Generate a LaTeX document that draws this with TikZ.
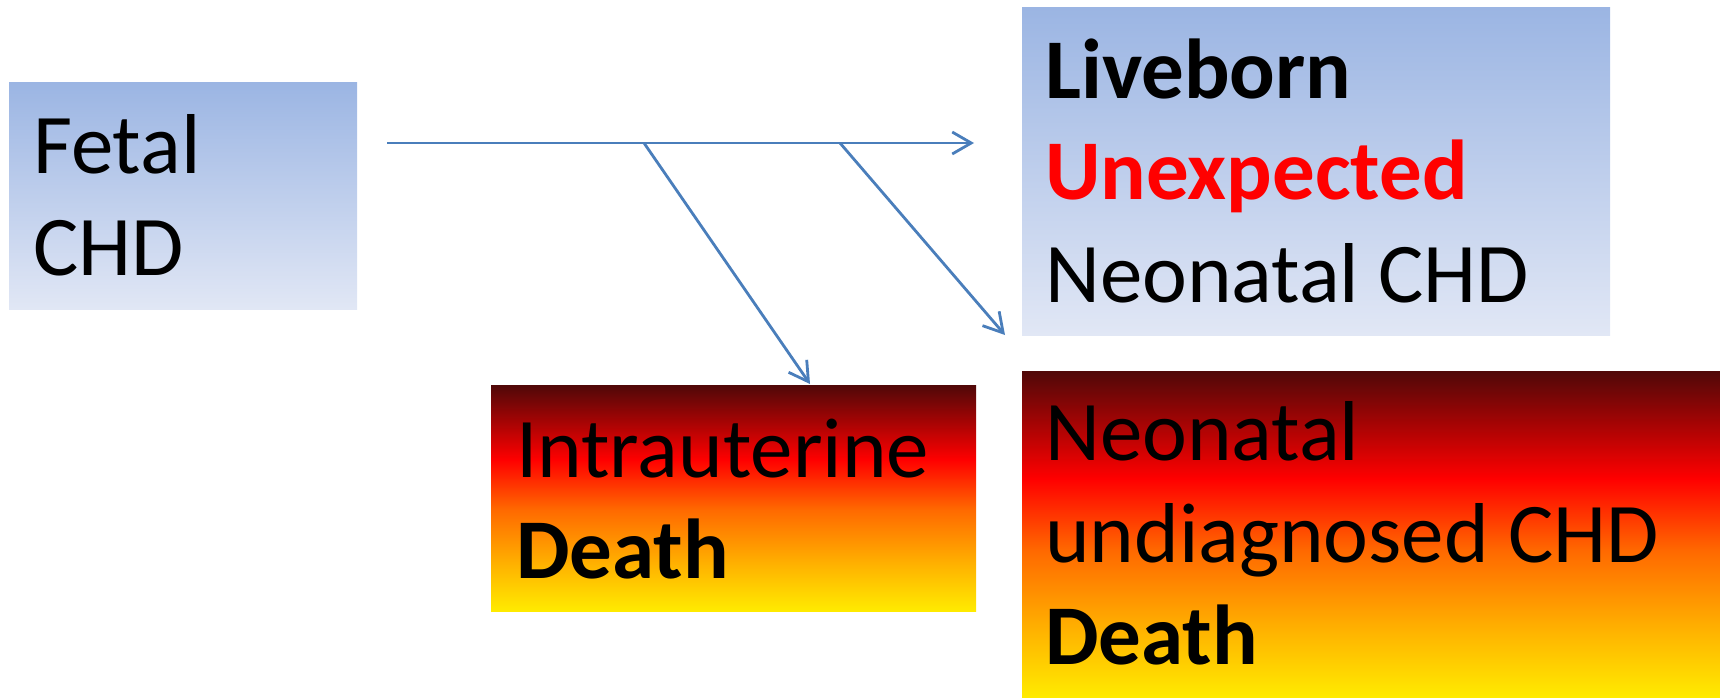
\documentclass[tikz,border=0pt]{standalone}
\usepackage{fontspec}
\setmainfont{Carlito}
\usetikzlibrary{arrows.meta,calc}

% colours
\definecolor{flowblue}{RGB}{74,126,187}
\definecolor{skytop}{RGB}{155,181,227}
\definecolor{skybot}{RGB}{225,231,245}
\definecolor{hotY}{RGB}{255,235,0}
\definecolor{hotA}{RGB}{255,180,0}
\definecolor{hotO}{RGB}{255,105,0}
\definecolor{hotR}{RGB}{255,0,0}
\definecolor{hotM}{RGB}{80,8,8}

% yellow -> orange -> red -> maroon, bottom to top
\pgfdeclareverticalshading{hotfade}{100bp}{%
  color(0bp)=(hotY); color(25bp)=(hotY); color(35bp)=(hotA);
  color(47.5bp)=(hotO); color(58.5bp)=(hotR); color(75bp)=(hotM);
  color(100bp)=(hotM)}

\tikzset{
  coolbox/.style={rectangle, inner sep=0pt, anchor=north west,
    top color=skytop, bottom color=skybot, draw=none},
  warmbox/.style={rectangle, inner sep=0pt, anchor=north west,
    shading=hotfade, draw=none},
  txt/.style={anchor=base west, inner sep=0pt, text=black,
    font=\fontsize{85}{102}\selectfont},
  bold/.style={txt, font=\fontsize{85}{102}\selectfont\bfseries},
  flow/.style={draw=flowblue, line width=2.8pt,
    -{Straight Barb[length=19pt,width=22pt,line width=2.8pt]}}
}

\begin{document}
\begin{tikzpicture}[x=1pt,y=-1pt]
  \useasboundingbox (0,0) rectangle (1720,697);

  % boxes
  \node[coolbox, minimum width=348pt, minimum height=227pt] (fetal) at (9,82) {};
  \node[coolbox, minimum width=588pt, minimum height=328pt] (live) at (1022,7) {};
  \node[warmbox, minimum width=485pt, minimum height=226pt] (iud) at (491,385) {};
  \node[warmbox, minimum width=698pt, minimum height=326pt] (nnd) at (1022,371) {};

  % texts
  \node[txt] (fetal1) at (33,173) {Fetal};
  \node[txt] (fetal2) at (33,275) {CHD};

  \node[bold] (live1) at (1045,98) {Liveborn};
  \node[bold, text=red] (live2) at (1045,199) {Unexpected};
  \node[txt] (live3) at (1045,302) {Neonatal CHD};

  \node[txt] (iud1) at (516,477) {Intrauterine};
  \node[bold] (iud2) at (516,578) {Death};

  \node[txt] (nnd1) at (1045,460) {Neonatal};
  \node[txt] (nnd2) at (1045,562) {undiagnosed CHD};
  \node[bold] (nnd3) at (1045,664) {Death};

  % connector ends
  \coordinate (start) at (387,143);
  \coordinate (fork1) at (644,143);
  \coordinate (fork2) at (840,143);
  \coordinate (endlive) at (974,143);
  \coordinate (endiud) at (810,384);
  \coordinate (endnnd) at (1005,335);

  % connectors
  \draw[flow] (start) -- (endlive);
  \draw[flow] (fork1) -- (endiud);
  \draw[flow] (fork2) -- (endnnd);
\end{tikzpicture}
\end{document}
